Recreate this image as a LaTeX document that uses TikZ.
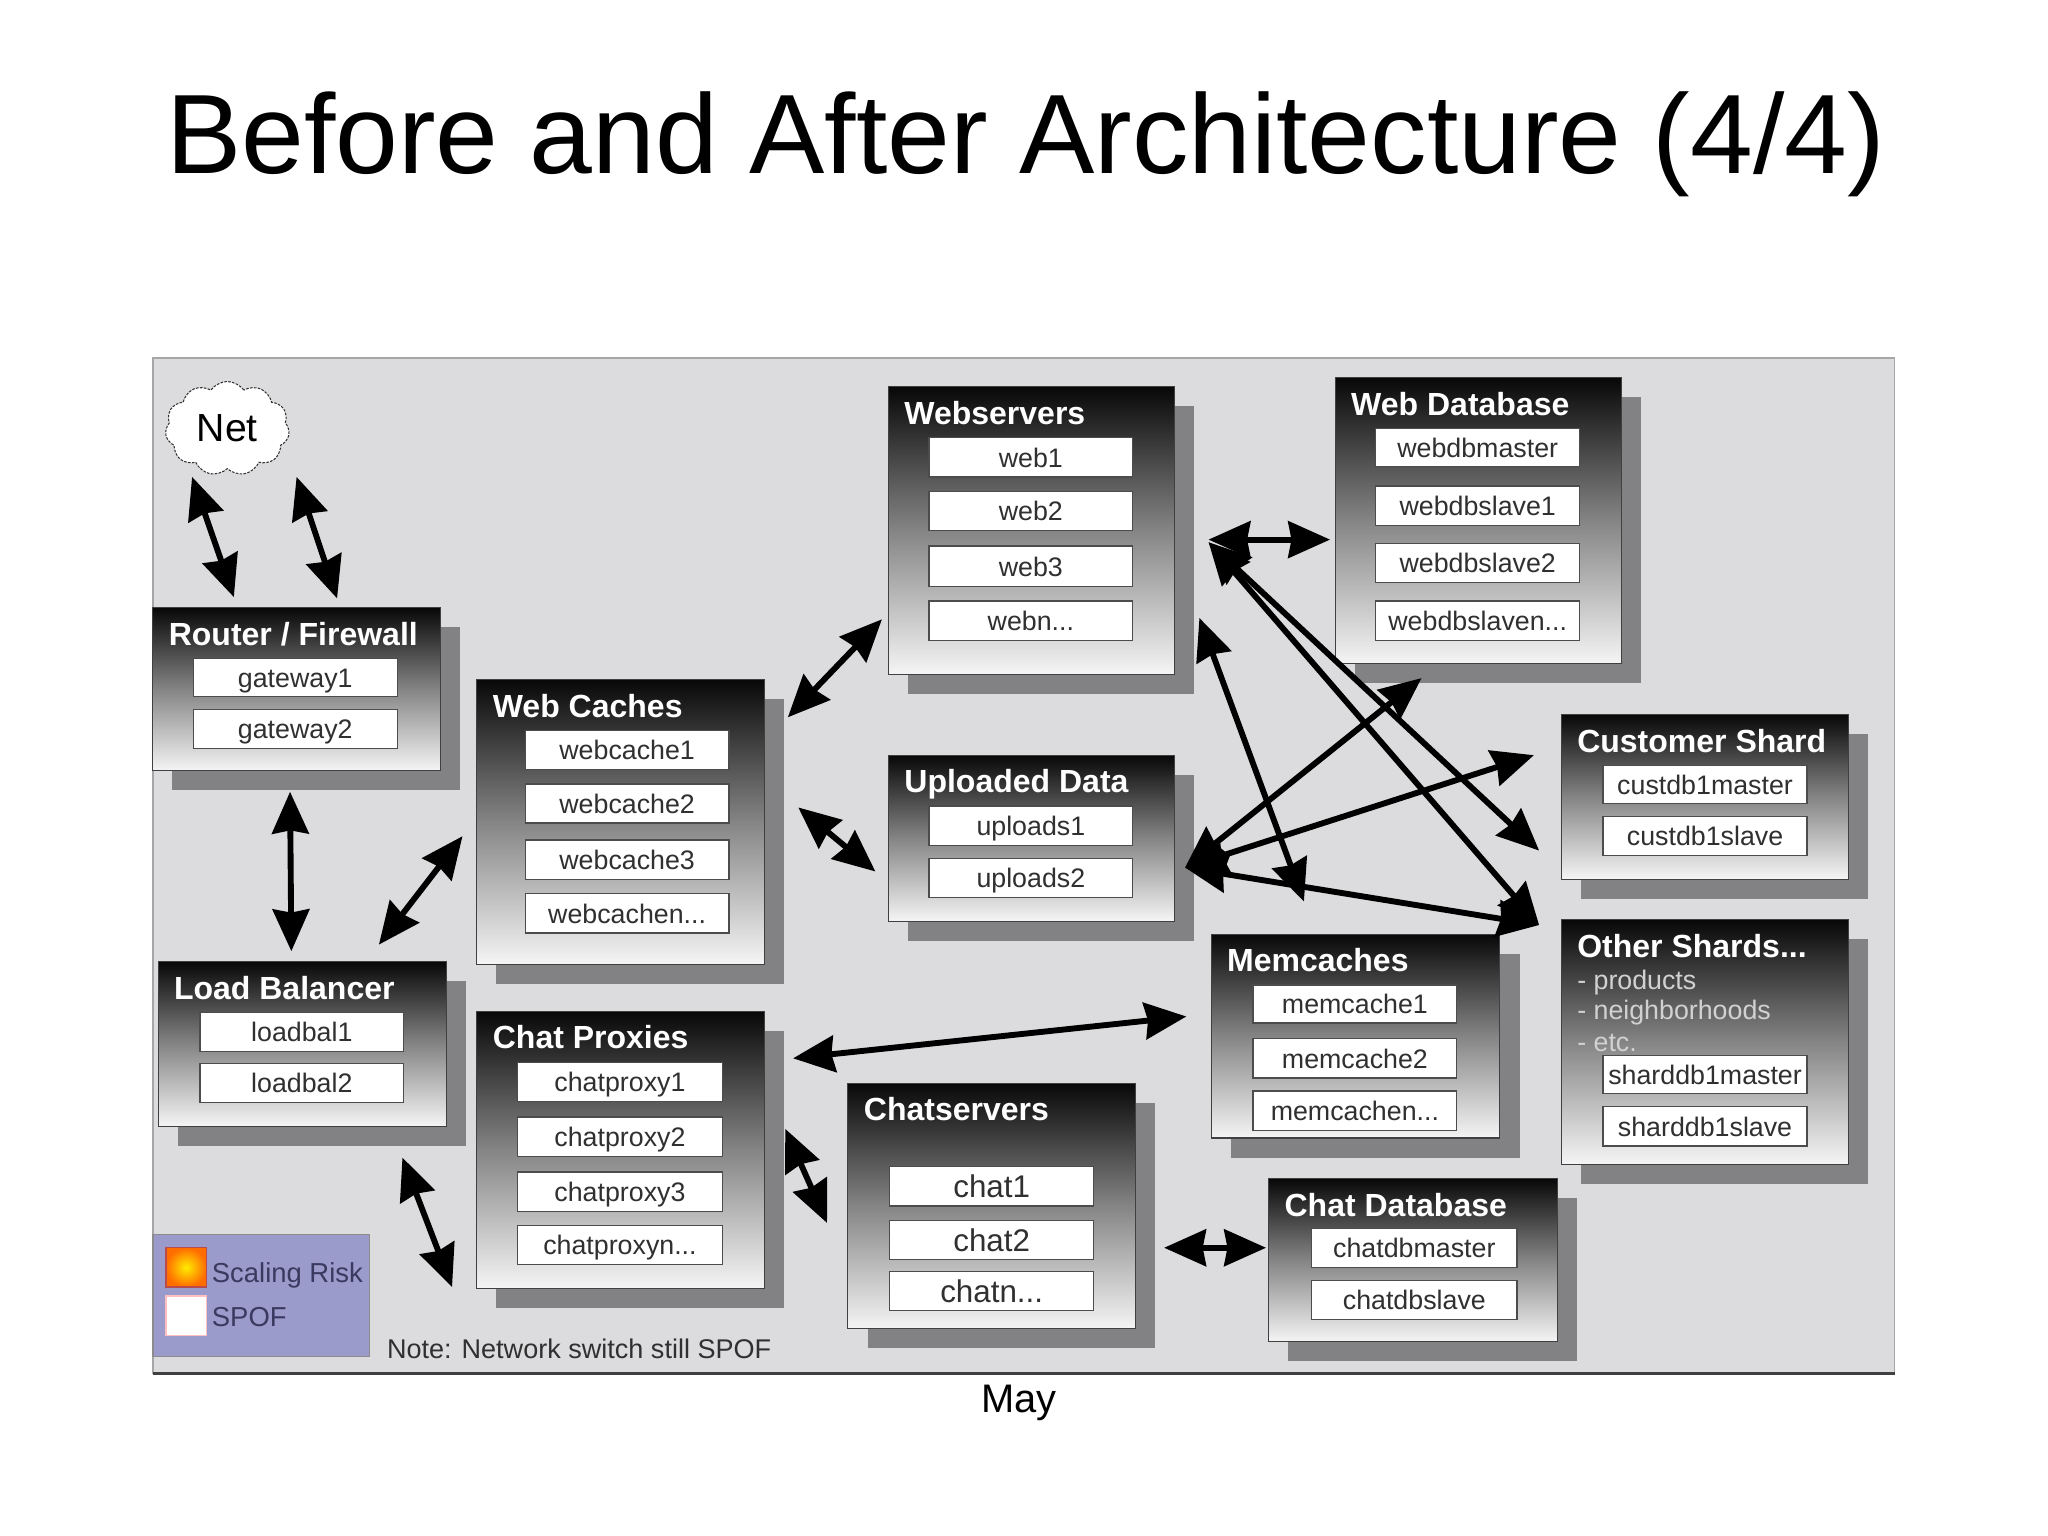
\documentclass[tikz,border=0pt]{standalone}
\usepackage{fontspec}
\setmainfont{Liberation Sans}
\usetikzlibrary{arrows.meta,shapes.symbols}
\definecolor{panelbg}{HTML}{DCDCDE}
\definecolor{shadowc}{HTML}{828284}
\definecolor{legendc}{HTML}{9A9ACB}
\definecolor{txtc}{HTML}{303030}
\definecolor{legtxt}{HTML}{3A3A60}
\tikzset{
  shadowbox/.style={fill=shadowc,draw=none,inner sep=0,outer sep=0},
  panelbox/.style={top color=black!97,bottom color=white!96!black,middle color=black!48,draw=black!75,line width=.8pt,inner sep=0,outer sep=0},
  paneltitle/.style={text=white,font=\fontsize{24.5}{30}\selectfont\bfseries,inner sep=0,anchor=west,text height=17.6pt,text depth=0pt},
  srvbox/.style={fill=white,draw=black!70,line width=1pt,inner sep=0,outer sep=0,text=txtc,font=\fontsize{20.5}{24}\selectfont,text height=15pt,text depth=0pt},
  plain/.style={text=txtc,font=\fontsize{20.5}{24}\selectfont,inner sep=0,anchor=west,text height=15pt,text depth=0pt},
  twoway/.style={line width=4.5pt,{Stealth[length=32pt,width=28pt,inset=2.5pt]}-{Stealth[length=32pt,width=28pt,inset=2.5pt]}},
}
\newcommand{\mypanel}[6]{%
  \node[shadowbox,minimum width={(#4-#2)*1pt},minimum height={(#5-#3)*1pt}] (#1s) at ({(#2+#4)/2+15},{(#3+#5)/2+15}) {};
  \node[panelbox,minimum width={(#4-#2)*1pt},minimum height={(#5-#3)*1pt}] (#1) at ({(#2+#4)/2},{(#3+#5)/2}) {};
  \node[paneltitle] (#1t) at ({#2+12},{#3+20}) {#6};
}
\newcommand{\srvitem}[7][]{%
  \node[srvbox,#1,minimum width={(#4-#2)*1pt},minimum height={(#5-#3)*1pt}] (#7) at ({(#2+#4)/2},{(#3+#5)/2}) {#6};
}
\begin{document}
\begin{tikzpicture}[x=1pt,y=-1pt]
\useasboundingbox (0,0) rectangle (1567.5,1175.6);
\fill[white] (0,0) rectangle (1567.5,1175.6);
\node[inner sep=0,font=\fontsize{86.4}{100}\selectfont,text=black] (title) at (785,110.5) {Before and After Architecture (4/4)};
% background
\node[fill=panelbg,draw=black!35,line width=1.2pt,inner sep=0,outer sep=0,minimum width=1333pt,minimum height=777pt] (bg) at (783.5,662.5) {};
\draw[black!75,line width=2pt] (bg.south west) -- (bg.south east);
\node[inner sep=0,font=\fontsize{30.5}{36}\selectfont,text=black] (may) at (780,1074) {May};
% legend
\node[fill=legendc,draw=black!45,line width=1pt,inner sep=0,outer sep=0,minimum width=166pt,minimum height=93pt] (legend) at (200,991.5) {};
\node[inner color=yellow!85!orange,outer color=orange!85!red,draw=red!60!black!70,line width=1pt,inner sep=0,minimum width=31pt,minimum height=30pt] (risk) at (142.5,970) {};
\node[fill=white,draw=red!25!white,line width=1pt,inner sep=0,minimum width=31pt,minimum height=30pt] (spof) at (142.5,1007) {};
\node[plain,font=\fontsize{21}{25}\selectfont,text=legtxt] (riskt) at (162,974) {Scaling Risk};
\node[plain,font=\fontsize{21}{25}\selectfont,text=legtxt] (spoft) at (162,1008) {SPOF};
\node[plain,font=\fontsize{20.7}{25}\selectfont] (note) at (296,1032) {Note: Network switch still SPOF};
% cloud
\node[cloud,cloud puffs=11,cloud puff arc=110,aspect=1.35,draw=black!80,dash pattern=on 2pt off 1pt,line width=.8pt,fill=white,inner sep=0,minimum width=95pt,minimum height=72pt,font=\fontsize{30}{34}\selectfont,text=black] (net) at (174,328) {Net};
% panels
\mypanel{router}{117}{465}{337}{590}{Router / Firewall}
\srvitem{148}{504}{304}{533}{gateway1}{gw1}
\srvitem{148}{543}{304}{573}{gateway2}{gw2}
\mypanel{caches}{365}{520}{585}{738}{Web Caches}
\srvitem{402}{559}{558}{589}{webcache1}{wc1}
\srvitem{402}{600}{558}{630}{webcache2}{wc2}
\srvitem{402}{643}{558}{673}{webcache3}{wc3}
\srvitem{402}{684}{558}{714}{webcachen...}{wcn}
\mypanel{lb}{121}{736}{342}{862}{Load Balancer}
\srvitem{153}{775}{309}{805}{loadbal1}{lb1}
\srvitem{153}{814}{309}{844}{loadbal2}{lb2}
\mypanel{proxies}{365}{774}{585}{986}{Chat Proxies}
\srvitem{396}{813}{553}{843}{chatproxy1}{cp1}
\srvitem{396}{855}{553}{885}{chatproxy2}{cp2}
\srvitem{396}{897}{553}{927}{chatproxy3}{cp3}
\srvitem{396}{938}{553}{968}{chatproxyn...}{cpn}
\mypanel{web}{680}{296}{899}{516}{Webservers}
\srvitem{711}{335}{867}{365}{web1}{w1}
\srvitem{711}{376}{867}{406}{web2}{w2}
\srvitem{711}{418}{867}{449}{web3}{w3}
\srvitem{711}{460}{867}{490}{webn...}{wn}
\mypanel{webdb}{1022}{289}{1241}{508}{Web Database}
\srvitem{1053}{328}{1209}{357}{webdbmaster}{wdm}
\srvitem{1053}{372}{1209}{402}{webdbslave1}{wds1}
\srvitem{1053}{416}{1209}{446}{webdbslave2}{wds2}
\srvitem{1053}{460}{1209}{490}{webdbslaven...}{wdsn}
\mypanel{upl}{680}{578}{899}{705}{Uploaded Data}
\srvitem{711}{617}{867}{647}{uploads1}{up1}
\srvitem{711}{657}{867}{687}{uploads2}{up2}
\mypanel{cust}{1195}{547}{1415}{673}{Customer Shard}
\srvitem{1227}{586}{1383}{615}{custdb1master}{cdm}
\srvitem{1227}{625}{1383}{655}{custdb1slave}{cds}
\mypanel{other}{1195}{704}{1415}{891}{Other Shards...}
\node[plain,text=black!18] (o1) at (1207,750) {- products};
\node[plain,text=black!18] (o2) at (1207,773) {- neighborhoods};
\node[plain,text=black!18] (o3) at (1207,797) {- etc.};
\srvitem{1227}{808}{1383}{837}{sharddb1master}{sdm}
\srvitem{1227}{847}{1383}{877}{sharddb1slave}{sds}
\mypanel{mem}{927}{715}{1148}{871}{Memcaches}
\srvitem{959}{754}{1115}{783}{memcache1}{mc1}
\srvitem{959}{795}{1115}{825}{memcache2}{mc2}
\srvitem{959}{835}{1115}{865}{memcachen...}{mcn}
\mypanel{chats}{649}{829}{869}{1017}{Chatservers}
\srvitem[font=\fontsize{24}{28}\selectfont,text height=17.5pt]{681}{893}{837}{923}{chat1}{ch1}
\srvitem[font=\fontsize{24}{28}\selectfont,text height=17.5pt]{681}{934}{837}{964}{chat2}{ch2}
\srvitem[font=\fontsize{24}{28}\selectfont,text height=17.5pt]{681}{973}{837}{1003}{chatn...}{chn}
\mypanel{chatdb}{971}{902}{1192}{1027}{Chat Database}
\srvitem{1004}{940}{1161}{970}{chatdbmaster}{cdbm}
\srvitem{1004}{980}{1161}{1010}{chatdbslave}{cdbs}
% connector ends
\coordinate (netA) at (147,365); \coordinate (rtA) at (179,457);
\coordinate (netB) at (227,365); \coordinate (rtB) at (258,458);
\coordinate (rtC) at (222,606); \coordinate (lbA) at (223,728);
\coordinate (wcA) at (354,640); \coordinate (lbB) at (290,723);
\coordinate (wsA) at (675,474); \coordinate (wcB) at (603,549);
\coordinate (wcC) at (611,618); \coordinate (upA) at (670,667);
\coordinate (wdA) at (1018,413); \coordinate (wsB) at (925,413);
\coordinate (wsC) at (918,473); \coordinate (mmA) at (998,690);
\coordinate (wsD) at (925,415); \coordinate (csA) at (1178,651);
\coordinate (osA) at (1178,708);
\coordinate (upB) at (907,664); \coordinate (wdB) at (1088,519);
\coordinate (csB) at (1174,578);
\coordinate (cpA) at (607,810); \coordinate (mmB) at (908,778);
\coordinate (cpB) at (601,864); \coordinate (chA) at (633,936);
\coordinate (chB) at (891,955); \coordinate (cdA) at (969,955);
\coordinate (lbC) at (308,886); \coordinate (cpC) at (346,985);
\foreach \a/\b in {netA/rtA,netB/rtB,rtC/lbA,wcA/lbB,wsA/wcB,wcC/upA,wdA/wsB,wsC/mmA,wsD/csA,wsD/osA,upB/wdB,upB/csB,upB/osA,cpA/mmB,cpB/chA,chB/cdA,lbC/cpC}
  \draw[twoway] (\a) -- (\b);
\end{tikzpicture}
\end{document}
